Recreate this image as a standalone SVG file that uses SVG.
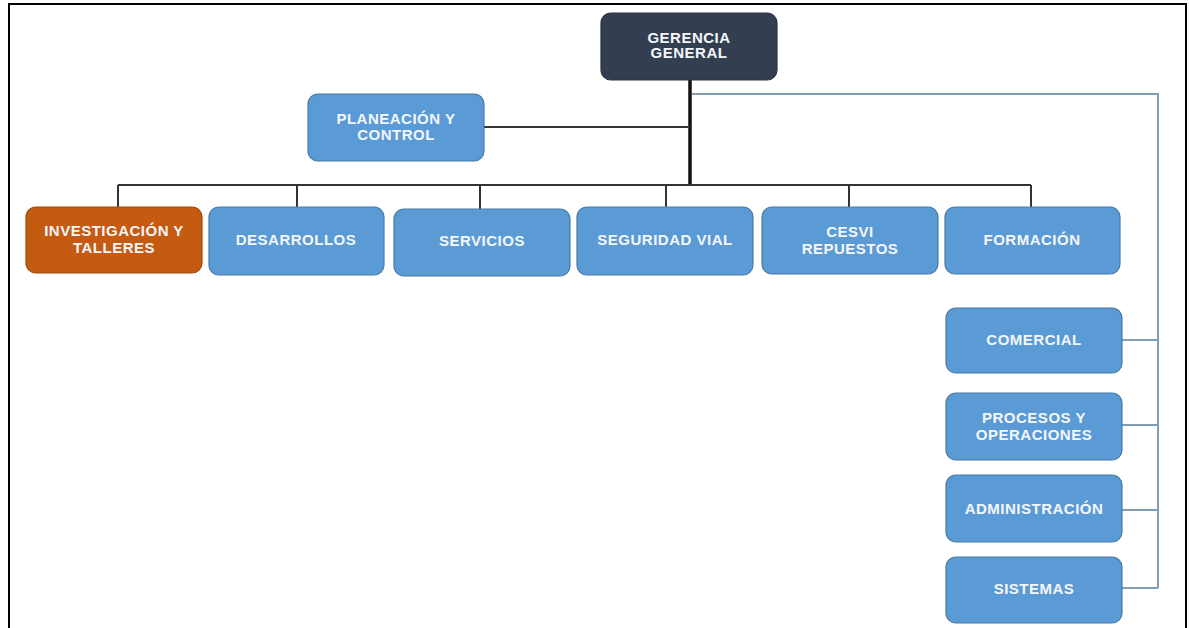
<svg xmlns="http://www.w3.org/2000/svg" width="1189" height="628" viewBox="0 0 1189 628">
<style>
.box{fill:#5b9bd5;stroke:#4a7aa6;stroke-width:1.2}
.dark{fill:#333f50;stroke:#2a3442;stroke-width:1.2}
.orange{fill:#c55a11;stroke:#9e4a12;stroke-width:1.2}
text{font-family:"Liberation Sans",Arial,sans-serif;font-weight:bold;font-size:15px;letter-spacing:0.5px;fill:#f4f6fb;text-anchor:middle}
.k{stroke:#333;stroke-width:2;fill:none}
.b{stroke:#7f9db5;stroke-width:2;fill:none}
</style>
<rect width="1189" height="628" fill="#fff"/>
<g id="frame" stroke="#000" stroke-width="2" fill="none">
<path d="M9 628V4H1186V628"/>
</g>
<g id="connectors">
<path d="M690 80V185" style="stroke:#111;stroke-width:3.5;fill:none"/>
<path class="k" d="M484 127H690"/>
<path class="k" d="M118 185H1031M118 185V207M297 185V207M480 185V209M666 185V207M849 185V207M1031 185V207"/>
<path class="b" d="M692 94H1158V588"/>
<path class="b" d="M1122 340H1158M1122 425H1158M1122 510H1158M1122 588H1158"/>
</g>
<g id="gerencia"><rect class="dark" x="601" y="13" width="176" height="67" rx="10"/><text x="689" y="42.5">GERENCIA</text><text x="689" y="57.5">GENERAL</text></g>
<g id="planeacion"><rect class="box" x="308" y="94" width="176" height="67" rx="10"/><text x="396" y="123.5">PLANEACIÓN Y</text><text x="396" y="140">CONTROL</text></g>
<g id="investigacion"><rect class="orange" x="26" y="207" width="176" height="66" rx="10"/><text x="114" y="235.5">INVESTIGACIÓN Y</text><text x="114" y="252.5">TALLERES</text></g>
<g id="desarrollos"><rect class="box" x="209" y="207" width="175" height="68" rx="10"/><text x="296" y="244.5">DESARROLLOS</text></g>
<g id="servicios"><rect class="box" x="394" y="209" width="176" height="67" rx="10"/><text x="482" y="245.5">SERVICIOS</text></g>
<g id="seguridad"><rect class="box" x="577" y="207" width="176" height="68" rx="10"/><text x="665" y="245">SEGURIDAD VIAL</text></g>
<g id="cesvi"><rect class="box" x="762" y="207" width="176" height="67" rx="10"/><text x="850" y="237">CESVI</text><text x="850" y="253.5">REPUESTOS</text></g>
<g id="formacion"><rect class="box" x="945" y="207" width="175" height="67" rx="10"/><text x="1032" y="244.5">FORMACIÓN</text></g>
<g id="comercial"><rect class="box" x="946" y="308" width="176" height="65" rx="10"/><text x="1034" y="344.5">COMERCIAL</text></g>
<g id="procesos"><rect class="box" x="946" y="393" width="176" height="67" rx="10"/><text x="1034" y="422.5">PROCESOS Y</text><text x="1034" y="439.5">OPERACIONES</text></g>
<g id="administracion"><rect class="box" x="946" y="475" width="176" height="67" rx="10"/><text x="1034" y="513.5">ADMINISTRACIÓN</text></g>
<g id="sistemas"><rect class="box" x="946" y="557" width="176" height="66" rx="10"/><text x="1034" y="593.5">SISTEMAS</text></g>
</svg>
